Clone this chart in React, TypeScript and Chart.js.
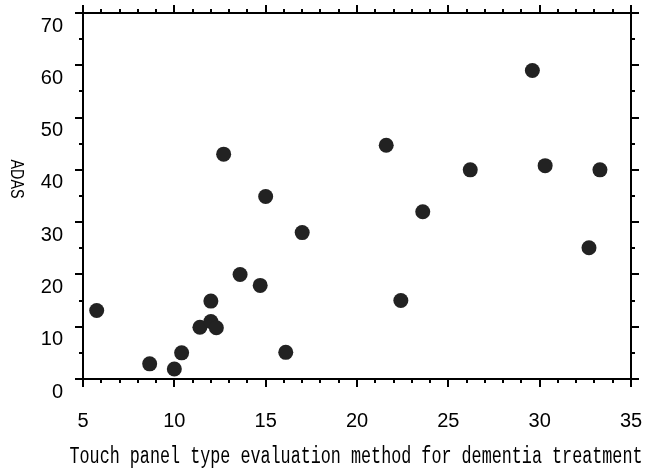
import React, { useEffect, useRef } from "react";
import { Chart, registerables } from "chart.js";

Chart.register(...registerables);

// Data
const touchPanelScores = [5.75, 8.65, 10.0, 10.4, 11.4, 12.0, 12.3, 12.0, 12.7, 13.6, 14.7, 15.0, 16.1, 17.0, 21.6, 22.4, 23.6, 26.2, 29.6, 30.3, 32.7, 33.3];
const adasScores = [13.1, 2.9, 1.9, 5.0, 9.9, 11.0, 9.8, 14.9, 43.0, 20.0, 17.9, 34.9, 5.1, 28.0, 44.7, 15.0, 32.0, 40.0, 59.0, 40.8, 25.1, 40.0];

const xTickLabels = [5, 10, 15, 20, 25, 30, 35];
const yTickLabels = [0, 10, 20, 30, 40, 50, 60, 70];
const xAxisTitle = "Touch panel type evaluation method for dementia treatment";
const yAxisTitle = "ADAS";

const SANS = "'Liberation Sans Narrow', 'Arial Narrow', 'Liberation Sans', Arial, sans-serif";
const MONO = "'Liberation Mono', 'DejaVu Sans Mono', monospace";

const framePlugin = {
  id: "frameTicks",
  afterDraw(chart: any) {
    const ctx = chart.ctx;
    const { left, right, top, bottom } = chart.chartArea;
    const xs = chart.scales.x;
    const ys = chart.scales.y;
    ctx.save();
    ctx.strokeStyle = "#000";
    ctx.lineWidth = 2;
    ctx.strokeRect(left, top, right - left, bottom - top);
    ctx.beginPath();
    for (let v = xs.min; v <= xs.max + 1e-9; v += 1) {
      const px = Math.round(xs.getPixelForValue(v));
      const major = Math.abs(v % 5) < 1e-6;
      const len = major ? 8 : 4;
      ctx.moveTo(px, bottom);
      ctx.lineTo(px, bottom + len);
      ctx.moveTo(px, top);
      ctx.lineTo(px, top - len);
    }
    for (let v = ys.min; v <= ys.max + 1e-9; v += 5) {
      const py = Math.round(ys.getPixelForValue(v));
      const major = Math.abs(v % 10) < 1e-6;
      const len = major ? 8 : 4;
      ctx.moveTo(left, py);
      ctx.lineTo(left - len, py);
      ctx.moveTo(right, py);
      ctx.lineTo(right + len, py);
    }
    ctx.stroke();

    // x axis title (condensed, like the reference's half-width gothic font)
    ctx.fillStyle = "#000";
    ctx.font = `23px ${MONO}`;
    ctx.textAlign = "center";
    ctx.textBaseline = "middle";
    ctx.fillText(xAxisTitle, (left + right) / 2 - 1, 457, 573);

    // y axis title, rotated clockwise
    ctx.translate(16, 179);
    ctx.rotate(Math.PI / 2);
    ctx.font = `18px ${SANS}`;
    ctx.textAlign = "center";
    ctx.textBaseline = "middle";
    ctx.fillText(yAxisTitle, 0, 0, 39);
    ctx.restore();
  },
};

export default function App() {
  const canvasRef = useRef<HTMLCanvasElement | null>(null);

  useEffect(() => {
    if (!canvasRef.current) return;
    const points = touchPanelScores.map((x, i) => ({ x, y: adasScores[i] }));
    const chart = new Chart(canvasRef.current, {
      type: "scatter",
      data: {
        datasets: [
          {
            data: points,
            pointRadius: 7.5,
            pointHoverRadius: 7.5,
            pointBackgroundColor: "#222",
            pointBorderWidth: 0,
            pointBorderColor: "#222",
          },
        ],
      },
      options: {
        responsive: false,
        animation: false,
        events: [],
        layout: { padding: { top: 13, right: 14, left: 0, bottom: 0 } },
        plugins: {
          legend: { display: false },
          tooltip: { enabled: false },
        },
        scales: {
          x: {
            type: "linear",
            min: xTickLabels[0],
            max: xTickLabels[xTickLabels.length - 1],
            afterBuildTicks: (scale: any) => {
              scale.ticks = xTickLabels.map((v) => ({ value: v }));
            },
            afterFit: (scale: any) => {
              scale.height = 91;
              scale.paddingLeft = 0;
              scale.paddingRight = 0;
              scale.paddingTop = 0;
              scale.paddingBottom = 0;
            },
            grid: { display: false, drawTicks: false },
            border: { display: false },
            ticks: {
              padding: 30,
              color: "#000",
              maxRotation: 0,
              font: { family: SANS, size: 20 },
            },
          },
          y: {
            type: "linear",
            min: yTickLabels[0],
            max: yTickLabels[yTickLabels.length - 1],
            afterBuildTicks: (scale: any) => {
              scale.ticks = yTickLabels.map((v) => ({ value: v }));
            },
            afterFit: (scale: any) => {
              scale.width = 83;
              scale.paddingLeft = 0;
              scale.paddingRight = 0;
              scale.paddingTop = 0;
              scale.paddingBottom = 0;
            },
            grid: { display: false, drawTicks: false },
            border: { display: false },
            ticks: {
              padding: 20,
              labelOffset: 13,
              color: "#000",
              font: { family: SANS, size: 20 },
            },
          },
        },
      },
      plugins: [framePlugin],
    });
    return () => chart.destroy();
  }, []);

  return (
    <div style={{ position: "fixed", left: 0, top: 0, width: 645, height: 470, background: "#fff" }}>
      <canvas ref={canvasRef} width={645} height={470} style={{ display: "block" }} />
    </div>
  );
}
